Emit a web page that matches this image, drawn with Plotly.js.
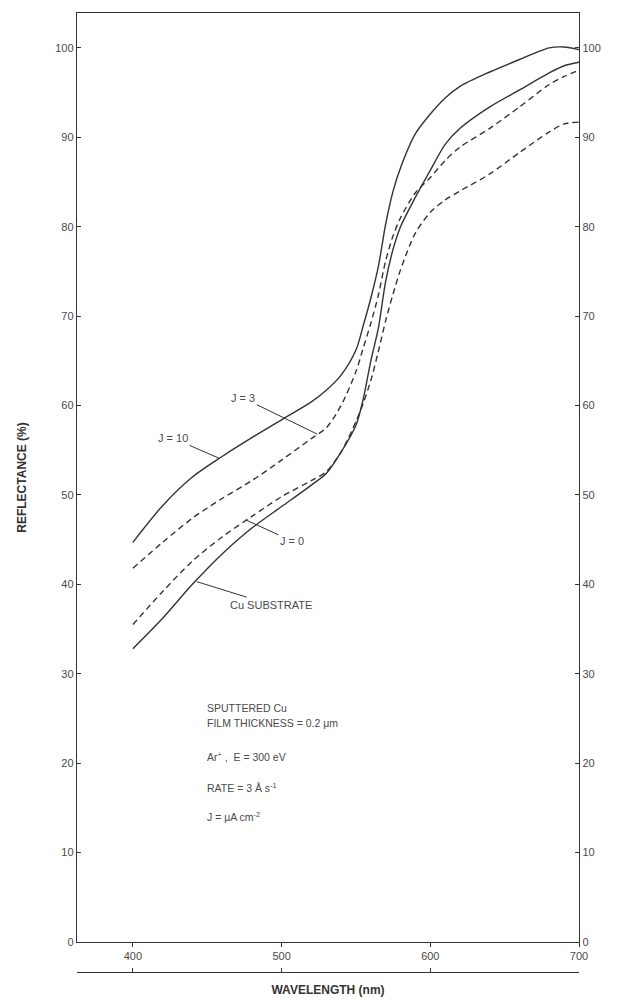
<!DOCTYPE html>
<html>
<head>
<meta charset="utf-8">
<script src="https://cdn.plot.ly/plotly-3.0.1.min.js"></script>
<style>html,body{margin:0;padding:0;background:#fff}#chart{width:619px;height:1000px}</style>
</head>
<body>
<div id="chart"></div>
<script>
// Wavelength grid (nm)
var wavelength = [400, 420, 440, 460, 480, 500, 520, 530, 540, 550, 555, 560, 565, 570, 575, 580, 590, 600, 610, 620, 640, 660, 680, 690, 700];
// Reflectance (%) for each sample
var reflJ10 = [44.7, 48.8, 52.0, 54.3, 56.4, 58.4, 60.4, 61.7, 63.4, 66.2, 69.0, 72.0, 75.5, 80.3, 84.0, 86.6, 90.4, 92.6, 94.4, 95.7, 97.3, 98.7, 100.0, 100.1, 99.8];
var reflJ3 = [41.8, 44.7, 47.4, 49.6, 51.6, 53.9, 56.3, 57.5, 60.0, 63.8, 66.5, 69.2, 72.3, 76.2, 79.0, 81.0, 83.8, 85.5, 87.4, 88.9, 91.0, 93.4, 95.9, 96.8, 97.5];
var reflJ0 = [35.5, 39.2, 42.6, 45.3, 47.6, 49.8, 51.6, 52.6, 54.8, 58.2, 60.3, 62.8, 66.0, 69.5, 72.5, 75.2, 79.3, 81.6, 83.0, 84.0, 85.9, 88.3, 90.6, 91.5, 91.7];
var reflCu = [32.8, 36.2, 40.0, 43.4, 46.3, 48.7, 51.1, 52.4, 54.8, 57.8, 60.8, 65.0, 68.6, 73.9, 77.5, 80.0, 83.3, 86.3, 89.2, 91.0, 93.4, 95.3, 97.2, 98.0, 98.4];

var xTicks = [400, 500, 600, 700];
var yTicks = [0, 10, 20, 30, 40, 50, 60, 70, 80, 90, 100];

var seriesNames = ["J = 10", "J = 3", "J = 0", "Cu SUBSTRATE"];

var infoLines = ["SPUTTERED Cu", "FILM THICKNESS = 0.2 \u03bcm", "Ar<sup>+</sup> ,  E = 300 eV", "RATE = 3 \u00c5 s<sup>-1</sup>", "J = \u03bcA cm<sup>-2</sup>"];

var ink = "#333";
var txt = "#4a4a4a";
var fontFam = "Liberation Sans, Arial, sans-serif";

function line(y, name, dash) {
  return {
    x: wavelength, y: y, name: name, type: "scatter", mode: "lines",
    line: {color: ink, width: 1.4, dash: dash, shape: "spline", smoothing: 0.8},
    hoverinfo: "x+y+name"
  };
}

var data = [
  line(reflJ10, seriesNames[0], "solid"),
  line(reflJ3, seriesNames[1], "6px,4px"),
  line(reflJ0, seriesNames[2], "6px,4px"),
  line(reflCu, seriesNames[3], "solid"),
  // empty trace so the mirrored right / lower axes are drawn
  {x: [null], y: [null], xaxis: "x2", yaxis: "y2", type: "scatter", mode: "lines", showlegend: false, hoverinfo: "skip"}
];

var xr = [362.4, 700];
var yr = [0, 103.9];

var annotations = [
  {x: 458, y: 54.1, text: "J = 10", ax: -46, ay: -20},
  {x: 524, y: 56.8, text: "J = 3", ax: -74, ay: -36},
  {x: 476, y: 47.2, text: "J = 0", ax: 46, ay: 21},
  {x: 443, y: 40.3, text: "Cu SUBSTRATE", ax: 74, ay: 23}
];
annotations.forEach(function(a){
  a.showarrow = true; a.arrowhead = 0; a.arrowwidth = 1; a.arrowcolor = ink;
  a.font = {family: fontFam, size: 11, color: txt}; a.xref = "x"; a.yref = "y";
});

var infoY = [26.2, 24.5, 20.8, 17.3, 14.0];
infoLines.forEach(function(t, i){
  annotations.push({x: 448.3, y: infoY[i], xref: "x", yref: "y", text: t, showarrow: false,
    xanchor: "left", yanchor: "middle", font: {family: fontFam, size: 10.5, color: txt}});
});

var layout = {
  width: 619, height: 1000,
  margin: {l: 77, r: 40, t: 13, b: 28},
  paper_bgcolor: "#fff", plot_bgcolor: "#fff",
  showlegend: false,
  font: {family: fontFam, size: 11, color: txt},
  xaxis: {
    range: xr, anchor: "y", showgrid: false, zeroline: false,
    showline: true, linecolor: ink, linewidth: 1.2, mirror: true,
    ticks: "outside", ticklen: 4, tickcolor: ink,
    tickvals: xTicks, ticktext: xTicks.map(String),
    tickfont: {family: fontFam, size: 11, color: txt},
    title: {text: "<b>WAVELENGTH (nm)</b>", font: {family: fontFam, size: 12, color: "#333"}, standoff: 24}
  },
  xaxis2: {
    range: xr, overlaying: "x", anchor: "free", position: 0, side: "bottom",
    showgrid: false, zeroline: false, showline: true, linecolor: ink, linewidth: 1.2,
    ticks: "inside", ticklen: 4, tickcolor: ink, tickvals: xTicks, showticklabels: false
  },
  yaxis: {
    range: yr, domain: [0.0313, 1], anchor: "x", showgrid: false, zeroline: false,
    showline: true, linecolor: ink, linewidth: 1.2,
    ticks: "inside", ticklen: 4, tickcolor: ink,
    tickvals: yTicks, ticktext: yTicks.map(String),
    tickfont: {family: fontFam, size: 11, color: txt},
    title: {text: "<b>REFLECTANCE (%)</b>", font: {family: fontFam, size: 12, color: "#333"}, standoff: 26}
  },
  yaxis2: {
    range: yr, overlaying: "y", side: "right", anchor: "x", showgrid: false, zeroline: false,
    showline: true, linecolor: ink, linewidth: 1.2,
    ticks: "inside", ticklen: 4, tickcolor: ink,
    tickvals: yTicks, ticktext: yTicks.map(String),
    tickfont: {family: fontFam, size: 11, color: txt}
  },
  annotations: annotations
};

Plotly.newPlot("chart", data, layout, {staticPlot: true, displayModeBar: false});
</script>
</body>
</html>
